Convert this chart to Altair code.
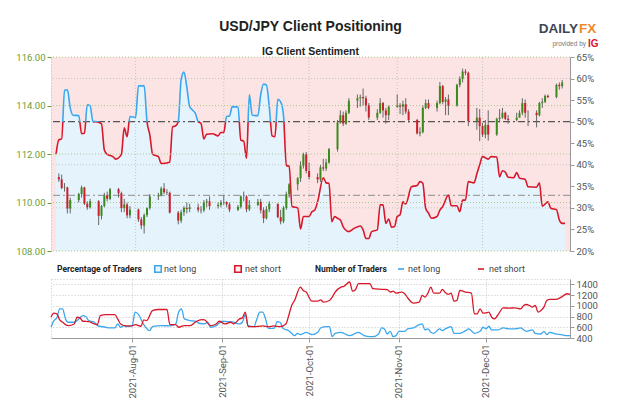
import altair as alt
import pandas as pd

# ---------------- data ----------------
# daily USD/JPY candles (trading days 2021-07-05 .. 2021-12-29)
candle_dates = [d.strftime("%Y-%m-%d") for d in pd.bdate_range("2021-07-05", "2021-12-29")]
opens = [
    111.05, 110.95, 110.60, 110.62, 109.75,
    110.10, 110.35, 110.62, 109.95, 109.80,
    110.05, 109.45, 109.85, 110.30, 110.15,
    110.55, 110.38, 109.77, 109.92, 109.47,
    109.71, 109.30, 109.05, 109.48, 109.77,
    110.25, 110.30, 110.58, 110.42, 110.40,
    109.58, 109.25, 109.60, 109.78, 109.73,
    109.80, 109.70, 109.68, 110.00, 110.05,
    109.85, 109.90, 110.00, 110.02, 109.92,
    109.70, 109.82, 110.25, 110.25, 109.72,
    109.90, 110.03, 109.68, 109.35, 109.72,
    109.95, 109.40, 109.22, 109.78, 110.35,
    110.75, 111.00, 111.52, 111.98, 111.30,
    111.05, 110.95, 111.45, 111.40, 111.65,
    112.20, 113.30, 113.60, 113.25, 113.70,
    114.20, 114.30, 114.35, 114.30, 114.00,
    113.50, 113.70, 114.10, 113.80, 113.60,
    113.95, 114.00, 113.95, 114.05, 113.75,
    113.40, 112.85, 112.90, 113.90, 114.10,
    113.90, 114.10, 114.80, 114.15, 114.25,
    114.00, 114.85, 115.10, 115.40, 115.35,
    113.35, 113.50, 113.15, 112.80, 113.20,
    112.80, 113.45, 113.50, 113.70, 113.45,
    113.40, 113.50, 113.70, 114.10, 113.70,
    113.70, 113.60, 114.10, 114.15, 114.40,
    114.35, 114.85, 114.80]
closes = [
    110.95, 110.60, 110.62, 109.75, 110.10,
    110.35, 110.62, 109.95, 109.80, 110.05,
    109.45, 109.85, 110.30, 110.15, 110.55,
    110.38, 109.77, 109.92, 109.47, 109.71,
    109.30, 109.05, 109.48, 109.77, 110.25,
    110.30, 110.58, 110.42, 110.40, 109.58,
    109.25, 109.60, 109.78, 109.73, 109.80,
    109.70, 109.68, 110.00, 110.05, 109.85,
    109.90, 110.00, 110.02, 109.92, 109.70,
    109.82, 110.25, 110.25, 109.72, 109.90,
    110.03, 109.68, 109.35, 109.72, 109.95,
    109.40, 109.22, 109.78, 110.35, 110.75,
    111.00, 111.52, 111.98, 111.30, 111.05,
    110.95, 111.45, 111.40, 111.65, 112.20,
    113.30, 113.60, 113.25, 113.70, 114.20,
    114.30, 114.35, 114.30, 114.00, 113.50,
    113.70, 114.10, 113.80, 113.60, 113.95,
    114.00, 113.95, 114.05, 113.75, 113.40,
    112.85, 112.90, 113.90, 114.10, 113.90,
    114.10, 114.80, 114.15, 114.25, 114.00,
    114.85, 115.10, 115.40, 115.35, 113.35,
    113.50, 113.15, 112.80, 113.20, 112.80,
    113.45, 113.50, 113.70, 113.45, 113.40,
    113.50, 113.70, 114.10, 113.70, 113.70,
    113.60, 114.10, 114.15, 114.40, 114.35,
    114.85, 114.80, 114.95]
highs = [
    111.20, 111.15, 110.80, 110.65, 110.20,
    110.40, 110.70, 110.65, 110.05, 110.15,
    110.10, 109.90, 110.40, 110.45, 110.60,
    110.60, 110.45, 110.15, 110.00, 109.85,
    109.75, 109.40, 109.55, 109.80, 110.35,
    110.40, 110.65, 110.80, 110.55, 110.45,
    109.65, 109.70, 109.85, 110.00, 109.95,
    109.95, 109.85, 110.10, 110.15, 110.25,
    110.00, 110.10, 110.30, 110.05, 110.00,
    109.90, 110.30, 110.45, 110.30, 110.10,
    110.15, 110.15, 109.80, 109.85, 110.05,
    109.95, 109.70, 109.85, 110.45, 110.80,
    111.05, 111.70, 112.05, 112.08, 111.65,
    111.20, 111.55, 111.80, 111.80, 112.25,
    113.40, 113.80, 113.75, 113.80, 114.30,
    114.45, 114.45, 114.70, 114.40, 114.10,
    113.85, 114.30, 114.15, 113.90, 114.00,
    114.45, 114.10, 114.20, 114.30, 113.85,
    113.45, 113.10, 114.00, 114.25, 114.25,
    114.20, 114.97, 114.85, 114.35, 114.45,
    114.90, 115.20, 115.52, 115.50, 115.40,
    113.90, 113.85, 113.30, 113.40, 113.80,
    113.50, 113.85, 113.90, 113.75, 113.60,
    113.70, 113.80, 114.30, 114.25, 113.80,
    113.80, 114.15, 114.30, 114.45, 114.45,
    114.90, 114.95, 115.05]
lows = [
    110.85, 110.55, 110.45, 109.55, 109.55,
    110.00, 110.20, 109.90, 109.70, 109.75,
    109.07, 109.30, 109.80, 110.05, 110.10,
    110.20, 109.60, 109.60, 109.35, 109.35,
    109.20, 108.90, 108.72, 109.40, 109.70,
    110.10, 110.25, 110.35, 110.30, 109.55,
    109.10, 109.15, 109.45, 109.55, 109.60,
    109.60, 109.55, 109.60, 109.80, 109.70,
    109.75, 109.80, 109.90, 109.80, 109.60,
    109.65, 109.75, 110.05, 109.60, 109.65,
    109.85, 109.55, 109.15, 109.30, 109.60,
    109.35, 109.10, 109.15, 109.70, 110.20,
    110.50, 110.85, 111.40, 111.20, 110.95,
    110.80, 110.85, 111.30, 111.30, 111.60,
    112.10, 113.25, 113.15, 113.20, 113.65,
    113.90, 113.95, 114.00, 113.75, 113.40,
    113.40, 113.65, 113.50, 113.25, 113.40,
    113.90, 113.65, 113.60, 113.65, 113.30,
    112.80, 112.73, 112.85, 113.85, 113.85,
    113.75, 114.05, 114.05, 113.60, 113.60,
    113.95, 114.75, 114.95, 115.25, 113.15,
    113.00, 112.53, 112.70, 112.65, 112.55,
    112.75, 113.30, 113.45, 113.40, 113.25,
    113.35, 113.50, 113.60, 113.50, 113.15,
    113.10, 113.55, 113.90, 114.10, 114.30,
    114.30, 114.65, 114.70]

# IG client sentiment: % of traders net long
pct_dates = [
    "07-04", "07-05", "07-06", "07-07", "07-08", "07-09", "07-10", "07-12", "07-13", "07-14",
    "07-15", "07-16", "07-17", "07-18", "07-20", "07-21", "07-22", "07-24", "07-25", "07-27",
    "07-28", "07-29", "07-30", "08-01", "08-02", "08-04", "08-05", "08-06", "08-07", "08-09",
    "08-10", "08-13", "08-14", "08-15", "08-16", "08-17", "08-18", "08-19", "08-20", "08-21",
    "08-22", "08-23", "08-24", "08-25", "08-26", "08-28", "08-30", "08-31", "09-01", "09-02",
    "09-03", "09-04", "09-06", "09-07", "09-08", "09-09", "09-10", "09-11", "09-13", "09-14",
    "09-15", "09-16", "09-17", "09-18", "09-19", "09-20", "09-21", "09-22", "09-23", "09-24",
    "09-25", "09-27", "09-28", "09-29", "10-01", "10-02", "10-03", "10-04", "10-06", "10-07",
    "10-08", "10-09", "10-10", "10-11", "10-12", "10-13", "10-15", "10-17", "10-19", "10-20",
    "10-21", "10-22", "10-23", "10-25", "10-26", "10-27", "10-28", "10-29", "10-30", "10-31",
    "11-01", "11-02", "11-03", "11-04", "11-06", "11-08", "11-09", "11-10", "11-11", "11-12",
    "11-13", "11-15", "11-16", "11-17", "11-19", "11-20", "11-22", "11-23", "11-24", "11-25",
    "11-26", "11-28", "11-29", "11-30", "12-01", "12-03", "12-04", "12-06", "12-07", "12-08",
    "12-09", "12-10", "12-12", "12-13", "12-14", "12-16", "12-17", "12-20", "12-21", "12-22",
    "12-24", "12-25", "12-27", "12-28", "12-29", "12-30"]
pct_vals = [
    42.4, 45.8, 46.0, 57.3, 57.4, 53.2, 51.5, 51.4, 47.2, 47.3,
    53.9, 53.7, 50.0, 50.0, 49.5, 43.4, 42.4, 41.9, 41.3, 42.4,
    48.6, 46.5, 51.2, 51.0, 58.3, 58.3, 50.0, 46.9, 42.4, 41.9,
    40.3, 40.6, 48.8, 49.0, 50.0, 59.7, 61.5, 58.0, 53.5, 52.7,
    51.9, 50.0, 49.6, 46.0, 47.1, 47.2, 46.7, 47.5, 47.5, 51.2,
    51.3, 53.5, 53.4, 45.7, 45.5, 41.5, 56.3, 51.5, 51.4, 56.3,
    58.7, 58.5, 53.5, 46.7, 46.5, 55.2, 54.6, 51.5, 39.8, 39.7,
    30.3, 30.0, 25.1, 28.0, 28.0, 29.1, 29.5, 31.4, 37.0, 35.8,
    35.7, 26.8, 28.0, 27.6, 27.2, 25.6, 24.5, 25.3, 25.8, 24.9,
    22.9, 22.9, 24.5, 24.9, 30.7, 30.7, 26.4, 27.4, 25.5, 25.6,
    28.0, 28.4, 31.4, 30.9, 34.9, 35.2, 36.1, 35.7, 29.9, 28.8,
    27.6, 28.0, 29.5, 30.3, 33.0, 30.5, 30.5, 29.1, 31.8, 31.8,
    36.1, 35.8, 37.9, 40.0, 41.9, 41.3, 41.9, 41.8, 37.2, 38.6,
    38.3, 37.1, 37.0, 38.2, 36.9, 36.6, 34.9, 34.8, 35.8, 30.4,
    31.4, 29.9, 29.6, 27.2, 26.4, 26.4]

# number of traders
long_dates = [
    "07-04", "07-05", "07-06", "07-07", "07-08", "07-09", "07-10", "07-12", "07-13", "07-15",
    "07-16", "07-17", "07-19", "07-20", "07-23", "07-24", "07-26", "07-27", "07-28", "07-29",
    "07-30", "08-01", "08-02", "08-03", "08-05", "08-07", "08-08", "08-11", "08-14", "08-16",
    "08-17", "08-18", "08-19", "08-21", "08-23", "08-24", "08-26", "08-27", "08-28", "08-30",
    "09-01", "09-03", "09-05", "09-07", "09-08", "09-09", "09-10", "09-12", "09-13", "09-14",
    "09-15", "09-16", "09-17", "09-19", "09-20", "09-21", "09-22", "09-24", "09-25", "09-26",
    "09-27", "09-28", "09-30", "10-01", "10-02", "10-04", "10-05", "10-07", "10-08", "10-09",
    "10-10", "10-12", "10-13", "10-15", "10-17", "10-18", "10-20", "10-22", "10-23", "10-25",
    "10-26", "10-27", "10-28", "10-29", "10-30", "10-31", "11-01", "11-03", "11-04", "11-06",
    "11-08", "11-09", "11-10", "11-11", "11-12", "11-13", "11-15", "11-16", "11-17", "11-19",
    "11-20", "11-22", "11-24", "11-25", "11-26", "11-27", "11-29", "11-30", "12-01", "12-02",
    "12-03", "12-05", "12-07", "12-09", "12-11", "12-13", "12-15", "12-17", "12-18", "12-20",
    "12-21", "12-22", "12-23", "12-25", "12-27", "12-29", "12-30"]
long_vals = [
    600, 725, 775, 944, 944, 756, 694, 694, 725, 819,
    800, 725, 694, 631, 600, 587, 587, 662, 600, 631,
    612, 631, 881, 850, 650, 537, 612, 631, 625, 662,
    881, 944, 756, 725, 712, 675, 662, 694, 600, 631,
    712, 706, 694, 662, 694, 837, 631, 612, 756, 881,
    881, 756, 581, 581, 706, 694, 581, 537, 487, 444,
    487, 462, 506, 487, 462, 506, 587, 612, 612, 425,
    487, 506, 487, 444, 487, 506, 444, 425, 425, 475,
    587, 569, 475, 525, 425, 444, 525, 525, 569, 587,
    650, 662, 550, 569, 506, 487, 569, 537, 569, 612,
    487, 487, 537, 569, 537, 487, 525, 600, 569, 619,
    550, 550, 587, 569, 569, 587, 525, 550, 487, 475,
    525, 462, 506, 475, 462, 444, 444]
short_dates = [
    "07-04", "07-05", "07-06", "07-07", "07-08", "07-09", "07-10", "07-12", "07-13", "07-14",
    "07-15", "07-17", "07-19", "07-20", "07-21", "07-23", "07-26", "07-27", "07-28", "07-30",
    "08-01", "08-02", "08-04", "08-05", "08-06", "08-08", "08-10", "08-13", "08-14", "08-16",
    "08-17", "08-19", "08-21", "08-23", "08-25", "08-26", "08-28", "08-30", "08-31", "09-02",
    "09-04", "09-05", "09-07", "09-08", "09-09", "09-10", "09-12", "09-15", "09-17", "09-19",
    "09-21", "09-23", "09-24", "09-25", "09-26", "09-28", "09-29", "09-30", "10-02", "10-04",
    "10-05", "10-06", "10-08", "10-09", "10-10", "10-12", "10-13", "10-15", "10-16", "10-17",
    "10-18", "10-20", "10-22", "10-23", "10-27", "10-28", "10-29", "10-30", "10-31", "11-02",
    "11-03", "11-04", "11-06", "11-08", "11-09", "11-10", "11-11", "11-12", "11-13", "11-15",
    "11-16", "11-17", "11-18", "11-19", "11-20", "11-21", "11-22", "11-24", "11-26", "11-27",
    "11-28", "11-29", "11-30", "12-01", "12-02", "12-03", "12-04", "12-05", "12-07", "12-09",
    "12-11", "12-13", "12-14", "12-15", "12-16", "12-17", "12-18", "12-19", "12-20", "12-21",
    "12-22", "12-23", "12-25", "12-27", "12-29", "12-30"]
short_vals = [
    787, 862, 850, 737, 694, 650, 631, 662, 787, 775,
    712, 706, 662, 650, 819, 837, 837, 756, 662, 625,
    625, 650, 619, 737, 725, 912, 931, 931, 650, 650,
    600, 631, 631, 706, 744, 737, 631, 662, 712, 662,
    694, 662, 756, 775, 881, 612, 612, 625, 612, 625,
    612, 662, 819, 1006, 1100, 1350, 1287, 1256, 1087, 1087,
    1112, 1069, 1100, 1162, 1256, 1350, 1362, 1444, 1275, 1300,
    1412, 1412, 1412, 1319, 1306, 1300, 1256, 1275, 1237, 1256,
    1225, 1150, 1050, 1069, 1194, 1162, 1237, 1350, 1237, 1237,
    1306, 1244, 1212, 1237, 1087, 1100, 1287, 1256, 1237, 850,
    850, 944, 862, 869, 881, 787, 756, 819, 962, 956,
    962, 944, 1006, 1025, 1006, 975, 1006, 881, 912, 975,
    1100, 1119, 1119, 1162, 1225, 1212]

month_ticks = ["2021-08-01", "2021-09-01", "2021-10-01", "2021-11-01", "2021-12-01"]
price_ticks = [108, 110, 112, 114, 116]
pct_ticks = [20, 25, 30, 35, 40, 45, 50, 55, 60, 65]
pct_grid = [30, 40, 60]
ref_levels = [50, 32.9]
count_ticks = [400, 600, 800, 1000, 1200, 1400]

# ---------------- style ----------------
W, H1, H2 = 519, 194, 59
NARROW = "Roboto, Liberation Sans, Arial, sans-serif"
SANS = "Liberation Sans, Arial, sans-serif"
LBLUE, LRED = "#3aa7ee", "#d7182a"
FILL_BLUE, FILL_PINK = "#e5f3fd", "#fde4e4"
UP, DOWN = "#3a8a1c", "#cc1f2c"
GREEN_TXT, GREEN_GRID = "#6a9d3a", "#a8c98a"
GRAY_GRID = "#c4c4c4"

xscale = alt.Scale(domain=[alt.DateTime(year=2021, month=7, date=4),
                           alt.DateTime(year=2021, month=12, date=30)], nice=False)
pct_scale = alt.Scale(domain=[20, 65], nice=False, zero=False)
price_scale = alt.Scale(domain=[108, 116], nice=False, zero=False)
count_scale = alt.Scale(domain=[400, 1500], nice=False, zero=False)

candles = pd.DataFrame({"date": candle_dates, "open": opens, "high": highs,
                        "low": lows, "close": closes})
pct_df = pd.DataFrame({"date": ["2021-" + d for d in pct_dates], "pct": pct_vals})
long_df = pd.DataFrame({"date": ["2021-" + d for d in long_dates], "n": long_vals})
short_df = pd.DataFrame({"date": ["2021-" + d for d in short_dates], "n": short_vals})
month_df = pd.DataFrame({"date": month_ticks})

X = alt.X("date:T", scale=xscale, axis=None)

right_axis = alt.Axis(orient="right", values=pct_ticks, labelExpr="datum.value + '%'",
                      grid=False, domainColor="#9a9a9a", tickColor="#9a9a9a", tickSize=4,
                      labelColor="#555", labelFont=NARROW, labelFontSize=9.5,
                      labelPadding=2, labelOverlap=False, title=None)
left_axis = alt.Axis(orient="left", values=price_ticks, format=".2f", grid=False,
                     domainColor=GREEN_GRID, domainDash=[1, 2], tickColor=GREEN_TXT,
                     tickSize=4, labelColor=GREEN_TXT, labelFont=NARROW, labelFontSize=9.5,
                     labelPadding=2, labelOverlap=False, title=None)

# ---- percentage group ----
area = alt.Chart(pct_df).mark_area(color=FILL_BLUE, interpolate="monotone").encode(
    x=X, y=alt.Y("pct:Q", scale=pct_scale, axis=right_axis), y2=alt.datum(20))
vgrid = alt.Chart(month_df).mark_rule(color=GRAY_GRID, strokeDash=[1, 2]).encode(
    x=X, y=alt.YDatum(20, scale=pct_scale, axis=right_axis), y2=alt.datum(65))
pgrid = alt.Chart(pd.DataFrame({"v": pct_grid})).mark_rule(
    color=GRAY_GRID, strokeDash=[1, 2]).encode(y=alt.Y("v:Q", scale=pct_scale, axis=right_axis))
refs = alt.Chart(pd.DataFrame({"v": ref_levels, "c": ["#555555", "#a0a0a0"]})).mark_rule(
    strokeDash=[7, 3, 2, 3], strokeWidth=1.1).encode(
    y=alt.Y("v:Q", scale=pct_scale, axis=right_axis), color=alt.Color("c:N", scale=None))

pmax, pmin = max(pct_vals), min(pct_vals)
off = (pmax - 50) / (pmax - pmin)
grad = alt.LinearGradient(
    gradient="linear", x1=0, x2=0, y1=0, y2=1,
    stops=[alt.GradientStop(color=LBLUE, offset=0), alt.GradientStop(color=LBLUE, offset=off),
           alt.GradientStop(color=LRED, offset=off), alt.GradientStop(color=LRED, offset=1)])
pline = alt.Chart(pct_df).mark_line(color=grad, strokeWidth=1.6, interpolate="monotone").encode(
    x=X, y=alt.Y("pct:Q", scale=pct_scale, axis=right_axis))

pct_group = alt.layer(area, vgrid, pgrid, refs, pline)

# ---- price group ----
prgrid = alt.Chart(pd.DataFrame({"v": price_ticks})).mark_rule(
    color=GREEN_GRID, strokeDash=[1, 2]).encode(y=alt.Y("v:Q", scale=price_scale, axis=left_axis))
wicks = alt.Chart(candles).mark_rule(color="#666666", strokeWidth=1).encode(
    x=X, y=alt.Y("low:Q", scale=price_scale, axis=left_axis), y2="high:Q")
bodies = alt.Chart(candles).mark_bar(size=2).transform_calculate(
    dir="datum.close >= datum.open ? 'up' : 'down'").encode(
    x=X, y=alt.Y("open:Q", scale=price_scale, axis=left_axis), y2="close:Q",
    color=alt.Color("dir:N", scale=alt.Scale(domain=["up", "down"], range=[UP, DOWN]), legend=None))


def txt(s, x, y, size, color="#222222", weight="normal", align="center", font=SANS):
    return alt.Chart(pd.DataFrame({"t": [s]})).mark_text(
        align=align, baseline="middle", fontSize=size, fontWeight=weight,
        color=color, font=font).encode(text="t:N", x=alt.value(x), y=alt.value(y))


titles = [
    txt("USD/JPY Client Positioning", W / 2, -30, 14, weight="bold"),
    txt("IG Client Sentiment", W / 2, -5, 10.5, weight="bold"),
    txt("DAILY", 527, -28, 13.5, color="#3d4654", weight="bold", align="right"),
    txt("FX", 528, -28, 13.5, color="#f08a24", weight="bold", align="left"),
    txt("provided by", 535, -13, 6.5, color="#777777", align="right"),
    txt("IG", 537, -13, 10, color="#e0102a", weight="bold", align="left"),
]

price_group = alt.layer(prgrid, wicks, bodies, *titles)

main = alt.layer(pct_group, price_group).resolve_scale(y="independent").properties(
    width=W, height=H1, view=alt.ViewBackground(fill=FILL_PINK, strokeWidth=0))

# ---- bottom panel ----
bx_axis = alt.Axis(values=[alt.DateTime(year=2021, month=m, date=1) for m in range(8, 13)],
                   format="%Y-%b-%d", labelAngle=270, grid=True, gridDash=[1, 2],
                   gridColor=GRAY_GRID, domainColor="#9a9a9a", tickColor="#9a9a9a",
                   tickSize=4, labelColor="#555", labelFont=NARROW, labelFontSize=9.5,
                   title=None)
by_axis = alt.Axis(orient="right", values=count_ticks, format="d", grid=True, gridDash=[1, 2],
                   gridColor=GRAY_GRID, domainColor="#9a9a9a", tickColor="#9a9a9a",
                   tickSize=4, labelColor="#555", labelFont=NARROW, labelFontSize=9.5,
                   labelPadding=2, labelOverlap=False, title=None)
BX = alt.X("date:T", scale=xscale, axis=bx_axis)
lline = alt.Chart(long_df).mark_line(color=LBLUE, strokeWidth=1.3, interpolate="monotone").encode(
    x=BX, y=alt.Y("n:Q", scale=count_scale, axis=by_axis))
sline = alt.Chart(short_df).mark_line(color=LRED, strokeWidth=1.3, interpolate="monotone").encode(
    x=BX, y=alt.Y("n:Q", scale=count_scale, axis=by_axis))

LY = -10


def sq(x, stroke, fill):
    return alt.Chart(pd.DataFrame({"t": [0]})).mark_square(
        size=42, stroke=stroke, strokeWidth=1.6, fill=fill, opacity=1).encode(
        x=alt.value(x), y=alt.value(LY))


def dash(x, color):
    return alt.Chart(pd.DataFrame({"t": [0]})).mark_rule(color=color, strokeWidth=1.6).encode(
        x=alt.value(x), x2=alt.value(x + 6), y=alt.value(LY))


legend = [
    txt("Percentage of Traders", 6, LY, 8.5, weight="bold", align="left", font=NARROW),
    sq(107, LBLUE, "#eef7fe"),
    txt("net long", 113, LY, 9, color="#444", align="left", font=NARROW),
    sq(187, LRED, "#fdeeee"),
    txt("net short", 194, LY, 9, color="#444", align="left", font=NARROW),
    txt("Number of Traders", 264, LY, 8.5, weight="bold", align="left", font=NARROW),
    dash(347, LBLUE),
    txt("net long", 357, LY, 9, color="#444", align="left", font=NARROW),
    dash(427, LRED),
    txt("net short", 438, LY, 9, color="#444", align="left", font=NARROW),
]

bottom = alt.layer(lline, sline, *legend).properties(
    width=W, height=H2, view=alt.ViewBackground(stroke=GRAY_GRID, strokeDash=[1, 2]))

chart = alt.vconcat(main, bottom, spacing=28, bounds="flush").properties(
    padding={"left": 7, "top": 12, "right": 5, "bottom": 5}
).configure(font=SANS, background="white").configure_axis(labelOverlap=False)

chart.save("out.html", embed_options={"renderer": "svg", "actions": False})
